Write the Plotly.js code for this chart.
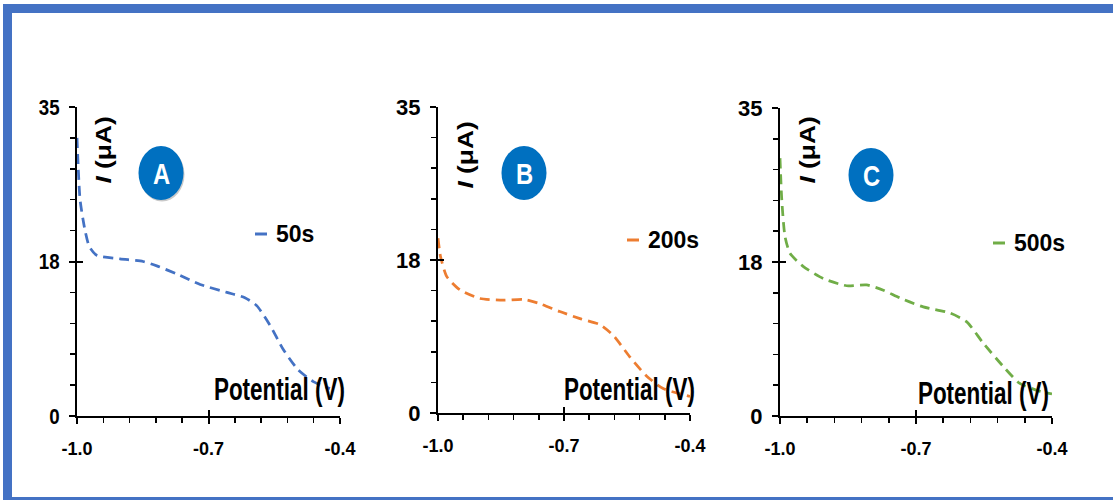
<!DOCTYPE html>
<html>
<head>
<meta charset="utf-8">
<script src="https://cdn.plot.ly/plotly-3.0.1.min.js"></script>
<style>html,body{margin:0;padding:0;background:#fff;}#chart{width:1113px;height:500px;}</style>
</head>
<body>
<div id="chart"></div>
<script>
// ---- data ----
const potentialA = [-1.0, -0.993, -0.982, -0.972, -0.955, -0.902, -0.849, -0.818, -0.773, -0.719, -0.658, -0.617, -0.590, -0.560, -0.529, -0.495, -0.461, -0.423];
const currentA   = [31.5, 24.5, 21.1, 19.2, 18.2, 17.8, 17.5, 17.0, 16.1, 14.9, 14.0, 13.4, 12.5, 10.3, 7.5, 5.2, 3.9, 3.1];

const potentialB = [-1.0, -0.994, -0.979, -0.948, -0.900, -0.844, -0.797, -0.757, -0.710, -0.662, -0.614, -0.583, -0.543, -0.503, -0.464, -0.400];
const currentB   = [20.0, 17.9, 15.6, 14.1, 13.1, 12.9, 13.0, 12.5, 11.6, 10.8, 10.1, 8.9, 6.4, 4.2, 2.8, 1.9];

const potentialC = [-1.0, -0.996, -0.989, -0.978, -0.949, -0.904, -0.853, -0.809, -0.772, -0.735, -0.684, -0.625, -0.588, -0.552, -0.507, -0.471, -0.426, -0.400];
const currentC   = [29.3, 24.5, 20.4, 18.5, 17.0, 15.6, 14.8, 14.9, 14.3, 13.4, 12.4, 11.7, 10.7, 8.3, 5.6, 3.7, 2.8, 2.5];

const seriesNames = ['50s', '200s', '500s'];
const panelLetters = ['A', 'B', 'C'];
const xTickVals = [-1.0, -0.7, -0.4];
const xTickText = ['-1.0', '-0.7', '-0.4'];
const yTickVals = [0, 17.5, 35];
const yTickText = ['0', '18', '35'];
const xTitle = 'Potential (V)';
const yTitle = '<i>I</i> (μA)';

// ---- styling / layout ----
const W = 1113, H = 500;
const PX = x => x / W;
const PY = y => 1 - y / H;
const colors = ['#4472C4', '#ED7D31', '#70AD47'];
const badgeBlue = '#0070C0';
const borderBlue = '#4472C4';
const sans = 'Liberation Sans, Arial, sans-serif';
const tickFontX = {family: sans, size: 18, color: '#000', weight: 700};
const tickFontY = {family: sans, size: 22, color: '#000', weight: 700};

// panel boxes in pixels: [left, right, top(35), bottom(0)]
const boxes = [[77, 340, 107, 416], [438, 690, 107, 413], [780, 1052, 108, 416]];
const xs = [potentialA, potentialB, potentialC];
const ys = [currentA, currentB, currentC];

const traces = [];
const layout = {
  width: W, height: H,
  margin: {l: 0, r: 0, t: 0, b: 0},
  paper_bgcolor: '#fff', plot_bgcolor: 'rgba(0,0,0,0)',
  showlegend: false,
  shapes: [], annotations: []
};
const annScale = []; // squeeze per annotation along the writing direction

for (let i = 0; i < 3; i++) {
  const n = i + 1, m = i + 4;
  const [l, r, t, b] = boxes[i];
  const xd = [PX(l), PX(r)], yd = [PY(b), PY(t)];
  traces.push({
    x: xs[i], y: ys[i], xaxis: 'x' + n, yaxis: 'y' + n,
    type: 'scatter', mode: 'lines', name: seriesNames[i],
    line: {color: colors[i], width: 2.75, dash: '10px,6px', shape: 'spline', smoothing: 0.6},
    hoverinfo: 'skip'
  });
  traces.push({x: [], y: [], xaxis: 'x' + m, yaxis: 'y' + m, type: 'scatter', mode: 'lines', showlegend: false, hoverinfo: 'skip'});

  layout['xaxis' + n] = {
    domain: xd, anchor: 'y' + n, range: [-1.0, -0.4],
    tickmode: 'array', tickvals: xTickVals, ticktext: xTickText,
    ticks: 'outside', ticklen: 6, tickwidth: 2, tickcolor: '#000',
    minor: {tickmode: 'linear', tick0: -1.0, dtick: 0.06, ticks: 'outside', ticklen: 5, tickwidth: 1.5, tickcolor: '#000', showgrid: false},
    showline: true, linecolor: '#000', linewidth: 2,
    showgrid: false, zeroline: false, tickfont: tickFontX, ticklabelstandoff: 9,
    fixedrange: true
  };
  layout['yaxis' + n] = {
    domain: yd, anchor: 'x' + n, range: [0, 35],
    tickmode: 'array', tickvals: yTickVals, ticktext: yTickText,
    ticks: 'outside', ticklen: 6, tickwidth: 2, tickcolor: '#000',
    minor: {tickmode: 'linear', tick0: 0, dtick: 3.5, ticks: 'outside', ticklen: 5, tickwidth: 1.5, tickcolor: '#000', showgrid: false},
    showline: true, linecolor: '#000', linewidth: 2,
    showgrid: false, zeroline: false, tickfont: tickFontY, ticklabelstandoff: 5,
    fixedrange: true
  };
  layout['xaxis' + m] = {
    domain: xd, anchor: 'y' + m, overlaying: 'x' + n, range: [-1.0, -0.4],
    tickmode: 'array', tickvals: xTickVals, ticks: 'inside', ticklen: 6, tickwidth: 2, tickcolor: '#000',
    showticklabels: false, showline: false, showgrid: false, zeroline: false, fixedrange: true
  };
  layout['yaxis' + m] = {
    domain: yd, anchor: 'x' + m, overlaying: 'y' + n, range: [0, 35],
    tickmode: 'array', tickvals: yTickVals, ticks: 'inside', ticklen: 6, tickwidth: 2, tickcolor: '#000',
    showticklabels: false, showline: false, showgrid: false, zeroline: false, fixedrange: true
  };
}

// x-axis label texts
const potPos = [[279, 389], [629, 389], [983, 393]];
potPos.forEach(([x, y]) => {
  layout.annotations.push({
    xref: 'paper', yref: 'paper', x: PX(x), y: PY(y), xanchor: 'center', yanchor: 'middle',
    text: xTitle, showarrow: false,
    font: {family: sans, size: 31, color: '#000', weight: 700}
  });
  annScale.push(0.725);
});
// y-axis label texts (rotated)
const yPos = [[103, 150], [465, 155], [807, 150]];
yPos.forEach(([x, y]) => {
  layout.annotations.push({
    xref: 'paper', yref: 'paper', x: PX(x), y: PY(y), xanchor: 'center', yanchor: 'middle',
    text: yTitle, showarrow: false, textangle: -90,
    font: {family: sans, size: 22, color: '#000', weight: 700}
  });
  annScale.push(1.2);
});
// badges
const badgePos = [[161, 173], [524, 173], [871, 175]];
badgePos.forEach(([cx, cy], i) => {
  if (i === 0) {
    layout.shapes.push({type: 'circle', xref: 'paper', yref: 'paper',
      x0: PX(cx - 21.5), x1: PX(cx + 23.5), y0: PY(cy + 28.5), y1: PY(cy - 25.5),
      fillcolor: '#c9c9c9', line: {width: 0}, layer: 'above'});
  }
  layout.shapes.push({type: 'circle', xref: 'paper', yref: 'paper',
    x0: PX(cx - 22.5), x1: PX(cx + 22.5), y0: PY(cy + 27), y1: PY(cy - 27),
    fillcolor: badgeBlue, line: {width: 0}, layer: 'above'});
  layout.annotations.push({xref: 'paper', yref: 'paper', x: PX(cx), y: PY(cy + 1), xanchor: 'center', yanchor: 'middle',
    text: panelLetters[i], showarrow: false,
    font: {family: sans, size: 29, color: '#fff', weight: 700}});
  annScale.push(0.82);
});
// legend-like keys
const legPos = [[255, 234], [627, 240], [993, 243]];
legPos.forEach(([x, y], i) => {
  layout.shapes.push({type: 'line', xref: 'paper', yref: 'paper',
    x0: PX(x), x1: PX(x + 12), y0: PY(y), y1: PY(y),
    line: {color: colors[i], width: 3}});
  layout.annotations.push({xref: 'paper', yref: 'paper', x: PX(x + 19), y: PY(y), xanchor: 'left', yanchor: 'middle',
    text: seriesNames[i], showarrow: false,
    font: {family: sans, size: 23, color: '#000', weight: 700}});
  annScale.push(1);
});
// outer frame (blue border)
layout.shapes.push({type: 'rect', xref: 'paper', yref: 'paper', x0: PX(3), x1: 1, y0: PY(13), y1: PY(4), fillcolor: borderBlue, line: {width: 0}});
layout.shapes.push({type: 'rect', xref: 'paper', yref: 'paper', x0: PX(3), x1: PX(12), y0: 0, y1: PY(4), fillcolor: borderBlue, line: {width: 0}});
layout.shapes.push({type: 'rect', xref: 'paper', yref: 'paper', x0: PX(3), x1: 1, y0: 0, y1: PY(497), fillcolor: borderBlue, line: {width: 0}});

// horizontal squeeze of an SVG text element, keeping its existing transform
function squeeze(t, s, anchor) {
  const bb = t.getBBox();
  const ox = anchor === 'right' ? bb.x + bb.width : bb.x + bb.width / 2;
  const prev = t.getAttribute('transform') || '';
  t.setAttribute('transform', (prev + ' translate(' + ox + ' 0) scale(' + s + ' 1) translate(' + (-ox) + ' 0)').trim());
}

Plotly.newPlot('chart', traces, layout, {staticPlot: true, displayModeBar: false}).then(gd => {
  gd.querySelectorAll('.annotation').forEach(g => {
    const idx = +g.getAttribute('data-index');
    const s = annScale[idx];
    if (!s || s === 1) return;
    const t = g.querySelector('text.annotation-text');
    if (t) squeeze(t, s, 'center');
  });
  gd.querySelectorAll('.ytick text').forEach(t => squeeze(t, 0.85, 'right'));
});
</script>
</body>
</html>
